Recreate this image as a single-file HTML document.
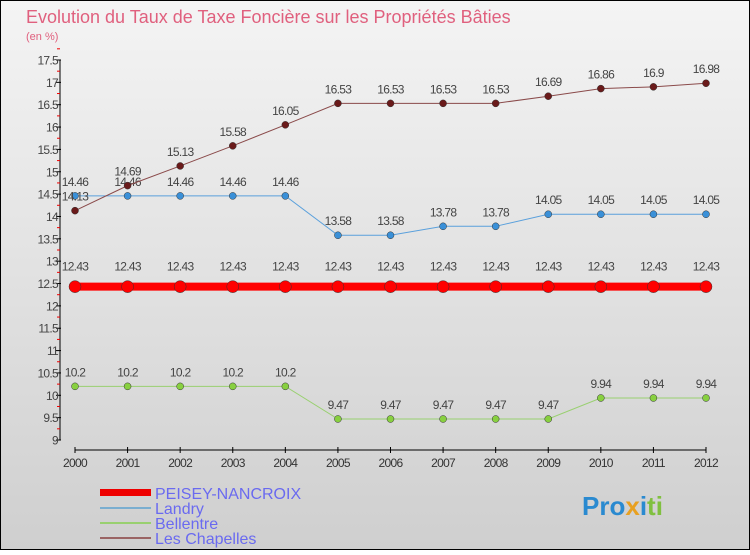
<!DOCTYPE html>
<html><head><meta charset="utf-8"><style>
body{margin:0;width:750px;height:550px;overflow:hidden;font-family:"Liberation Sans",sans-serif}
svg text{font-family:"Liberation Sans",sans-serif}
</style></head><body>
<svg id="chart" width="750" height="550" xmlns="http://www.w3.org/2000/svg">
<defs><linearGradient id="bg" x1="0" y1="0" x2="0" y2="1"><stop offset="0" stop-color="#f4f4f4"/><stop offset="1" stop-color="#cfcfcf"/></linearGradient></defs>
<rect x="0.5" y="0.5" width="749" height="549" fill="url(#bg)" stroke="#000"/>
<text x="26" y="23" font-size="18" fill="#e0607e">Evolution du Taux de Taxe Foncière sur les Propriétés Bâties</text>
<text x="26" y="40" font-size="11" fill="#e0607e">(en %)</text>
<g id="axes"></g><g id="series"></g>
<g>
<rect x="100" y="489" width="51" height="7" fill="#e00"/>
<line x1="100" y1="508" x2="151" y2="508" stroke="#7aaed0" stroke-width="2"/>
<line x1="100" y1="523" x2="151" y2="523" stroke="#99d070" stroke-width="2"/>
<line x1="100" y1="538" x2="151" y2="538" stroke="#9a6464" stroke-width="2"/>
<g font-size="16" fill="#6a6af0"><text x="155" y="499">PEISEY-NANCROIX</text><text x="155" y="514">Landry</text><text x="155" y="529">Bellentre</text><text x="155" y="544">Les Chapelles</text></g>
</g>
<text x="582" y="515" font-size="26" font-weight="bold"><tspan fill="#2a8ad0">Pro</tspan><tspan fill="#e8a020">x</tspan><tspan fill="#2a8ad0">i</tspan><tspan fill="#80c040">ti</tspan></text>
</svg>
<script>
const years=[2000,2001,2002,2003,2004,2005,2006,2007,2008,2009,2010,2011,2012];
const peisey=[12.43,12.43,12.43,12.43,12.43,12.43,12.43,12.43,12.43,12.43,12.43,12.43,12.43];
const landry=[14.46,14.46,14.46,14.46,14.46,13.58,13.58,13.78,13.78,14.05,14.05,14.05,14.05];
const bellentre=[10.2,10.2,10.2,10.2,10.2,9.47,9.47,9.47,9.47,9.47,9.94,9.94,9.94];
const chapelles=[14.13,14.69,15.13,15.58,16.05,16.53,16.53,16.53,16.53,16.69,16.86,16.9,16.98];
const yTicks=[9,9.5,10,10.5,11,11.5,12,12.5,13,13.5,14,14.5,15,15.5,16,16.5,17,17.5];
const NS="http://www.w3.org/2000/svg";
const X=i=>75+i*(706-75)/(years.length-1);
const Y=v=>440-(v-9)*(380/8.5);
function mk(tag,attrs,parent,txt){const e=document.createElementNS(NS,tag);for(const k in attrs)e.setAttribute(k,attrs[k]);if(txt!==undefined)e.textContent=txt;parent.appendChild(e);return e;}
const ax=document.getElementById('axes');
let yl=mk('line',{x1:60,y1:Y(17.5),x2:60,y2:Y(9),stroke:'#000'},ax);


yTicks.forEach(t=>{
 mk('line',{x1:56,x2:61,y1:Y(t),y2:Y(t),stroke:'#000'},ax);
 mk('line',{x1:57,x2:60,y1:Y(t+0.25),y2:Y(t+0.25),stroke:'#e00'},ax);
 const tx=mk('text',{x:58,y:Y(t)+4.5,'text-anchor':'end','font-size':12,fill:'#444','letter-spacing':'-0.7'},ax,String(t));
 
 
});
let xl=mk('line',{x1:75,y1:450,x2:706,y2:450,stroke:'#000'},ax);


years.forEach((y,i)=>{
 mk('line',{x1:X(i),x2:X(i),y1:447,y2:453,stroke:'#000'},ax);
 const tx=mk('text',{x:X(i),y:467,'text-anchor':'middle','font-size':12,fill:'#333','letter-spacing':'-0.7'},ax,String(y));
 
 
});
const sg=document.getElementById('series');
function series(vals,name,color,dot,w,r,labelDy){
 const g=mk('g',{},sg);
 
 
 mk('polyline',{points:vals.map((v,i)=>X(i)+','+Y(v)).join(' '),fill:'none',stroke:color,'stroke-width':w},g);
 vals.forEach((v,i)=>{
  const c=mk('circle',{cx:X(i),cy:Y(v),r:r,fill:dot,stroke:'#333','stroke-width':0.5},g);
  
  
  const t=mk('text',{x:X(i),y:Y(v)+labelDy,'text-anchor':'middle','font-size':12,fill:'#444','letter-spacing':'-0.7'},g,String(v));
  
  
 });
}
series(bellentre,'bellentre-series','#99d070','#88d040',1,3.5,-10);
series(landry,'landry-series','#5aa0dc','#3a90d8',1,3.5,-10);
series(chapelles,'les-chapelles-series','#8a4a4a','#6a1a1a',1,3.5,-10);
series(peisey,'peisey-nancroix-series','#f00','#f00',8,6,-16);
</script>
</body></html>
